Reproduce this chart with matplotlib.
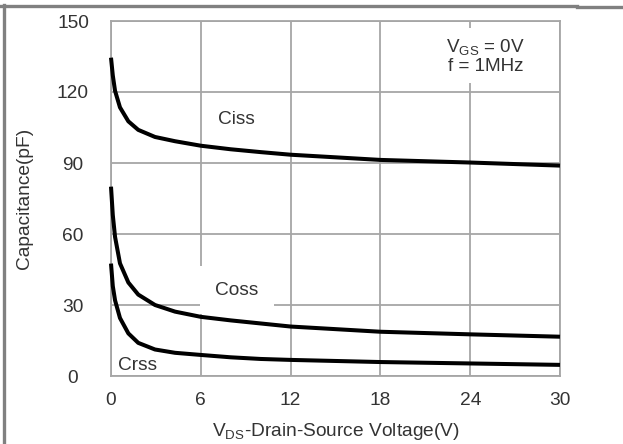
import matplotlib
matplotlib.use("Agg")
from matplotlib import pyplot as plt
from matplotlib.lines import Line2D

# values
vds = [0, 0.12, 0.27, 0.6, 1.16, 1.82, 2.94, 4.28, 6, 8, 10, 12, 18, 24, 30]
ciss = [134.5, 127, 120.5, 113.5, 107.6, 104, 101, 99.2, 97.3, 95.8, 94.6, 93.5, 91.3, 90.2, 88.9]
coss = [80, 68, 58.8, 47.6, 39.5, 34.4, 30, 27.2, 25, 23.5, 22.2, 20.9, 18.7, 17.6, 16.6]
crss = [47.5, 38, 32, 24.5, 18, 14, 11.2, 9.8, 8.9, 7.9, 7.2, 6.8, 5.9, 5.3, 4.7]

xticks = [0, 6, 12, 18, 24, 30]
yticks = [0, 30, 60, 90, 120, 150]

txt = "#333333"
grid = "#a6a6a6"
fs = 13.8
plt.rcParams["font.family"] = ["Liberation Sans", "DejaVu Sans"]

fig = plt.figure(figsize=(6.23, 4.44), dpi=100)
ax = fig.add_axes([111 / 623, 68 / 444, 449 / 623, 355 / 444])

for c in (ciss, coss, crss):
    ax.plot(vds, c, color="black", lw=2.9, solid_joinstyle="round",
            solid_capstyle="butt", clip_on=False, zorder=3)

ax.set_xlim(0, 30)
ax.set_ylim(0, 150)
ax.set_xticks(xticks)
ax.set_yticks(yticks)
ax.grid(True, color=grid, lw=1.3)
ax.set_axisbelow(True)
for s in ax.spines.values():
    s.set_color(grid)
    s.set_linewidth(1.3)
ax.tick_params(length=0, labelsize=fs, colors=txt)
ax.tick_params(axis="x", pad=11.5)
ax.tick_params(axis="y", pad=27.4)
for lab in ax.get_yticklabels():
    lab.set_horizontalalignment("center")

ax.set_xlabel("V$_{\\mathregular{DS}}$-Drain-Source Voltage(V)", fontsize=fs, color=txt, va="center")
ax.set_ylabel("Capacitance(pF)", fontsize=fs, color=txt, va="center")
ax.xaxis.set_label_coords(0.5, (376 - 431) / 355)
ax.yaxis.set_label_coords((25 - 111) / 449, 0.5)

ax.text(8.35, 108.2, "Ciss", fontsize=fs, color=txt, ha="center", va="center",
        bbox=dict(facecolor="white", edgecolor="none", pad=6), zorder=4)
ax.text(8.4, 36.3, "Coss", fontsize=fs, color=txt, ha="center", va="center",
        bbox=dict(facecolor="white", edgecolor="none", pad=11), zorder=4)
ax.text(1.77, 4.6, "Crss", fontsize=fs, color=txt, ha="center", va="center", zorder=4)
ax.text(25.05, 135.2, "V$_{\\mathregular{GS}}$ = 0V\nf = 1MHz", fontsize=13.6, color=txt,
        ha="center", va="center", linespacing=1.0,
        bbox=dict(facecolor="white", edgecolor="none", pad=6), zorder=4)

# grey frame around the picture (top and left edges only)
frame = "#808080"
fig.add_artist(Line2D([0, 577 / 623], [1 - 6 / 444] * 2, color=frame, lw=2.4, transform=fig.transFigure))
fig.add_artist(Line2D([577 / 623, 1], [1 - 7 / 444] * 2, color=frame, lw=2.4, transform=fig.transFigure))
fig.add_artist(Line2D([3.5 / 623] * 2, [0, 1 - 5 / 444], color=frame, lw=2.4, transform=fig.transFigure))

fig.savefig("out.png", dpi=100)
